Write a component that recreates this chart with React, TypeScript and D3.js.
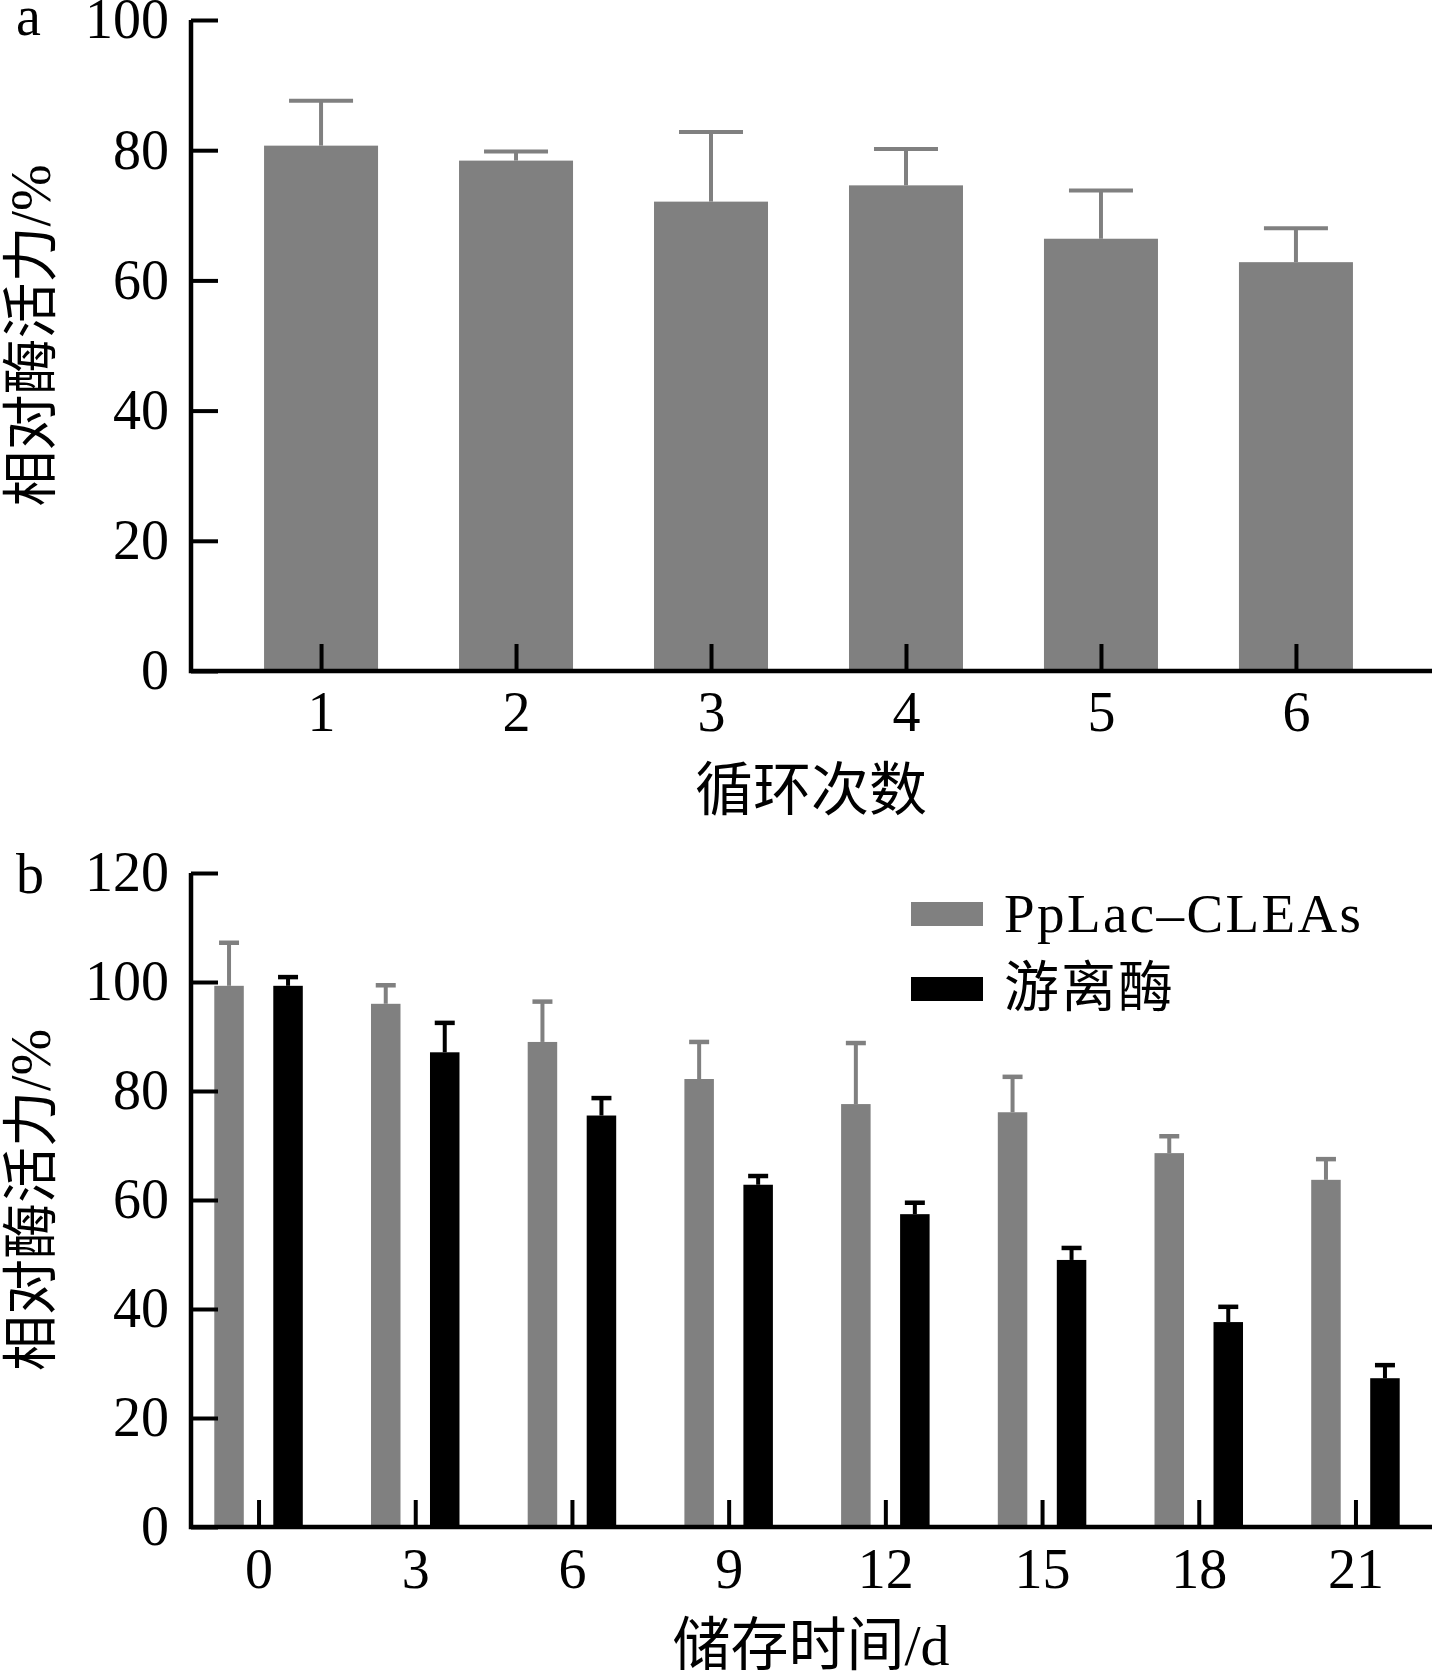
import * as d3 from "d3";
import React from "react";

// panel a: reuse cycles
const cycles = ["1", "2", "3", "4", "5", "6"];
const cycleMean = [80.7, 78.4, 72.1, 74.6, 66.4, 62.8];
const cycleSd = [6.9, 1.4, 10.7, 5.6, 7.4, 5.2];
const ticksA = [0, 20, 40, 60, 80, 100];

// panel b: storage stability
const days = ["0", "3", "6", "9", "12", "15", "18", "21"];
const cleaMean = [99.3, 96.0, 89.0, 82.2, 77.6, 76.1, 68.6, 63.7];
const cleaSd = [7.9, 3.4, 7.4, 6.8, 11.2, 6.5, 3.1, 3.8];
const freeMean = [99.3, 87.1, 75.5, 62.8, 57.4, 49.0, 37.6, 27.3];
const freeSd = [1.6, 5.4, 3.2, 1.6, 2.1, 2.2, 2.8, 2.4];
const ticksB = [0, 20, 40, 60, 80, 100, 120];
const seriesNames = ["PpLac\u2013CLEAs", "游离酶"];

const GRAY = "#808080";
const FONT = "'Liberation Serif', 'Times New Roman', 'Noto Sans CJK SC', serif";
const W = 1432;
const H = 1674;

const App: React.FC = (): React.ReactElement => {
  const ref = React.useRef<SVGSVGElement>(null);

  React.useEffect(() => {
    const svg = d3.select(ref.current);
    svg.selectAll("*").remove();
    const axisX0 = 191;
    const axisX1 = 1432;

    const styleAxis = (g: any) => {
      g.select(".domain").remove();
      g.selectAll("line").attr("stroke", "#000").attr("stroke-width", 4);
      g.selectAll("text")
        .attr("font-family", FONT)
        .attr("font-size", 56)
        .attr("fill", "#000");
    };

    // ---------- panel a ----------
    const yA = d3.scaleLinear().domain([0, 100]).range([671, 20]);
    const xA = d3.scalePoint().domain(cycles).range([axisX0, 1426]).padding(0.667);
    const gA = svg.append("g");
    const bwA = 114;

    gA.selectAll("rect.bar")
      .data(cycles)
      .enter()
      .append("rect")
      .attr("x", (d) => (xA(d) as number) - bwA / 2)
      .attr("y", (_d, i) => yA(cycleMean[i]))
      .attr("width", bwA)
      .attr("height", (_d, i) => yA(0) - yA(cycleMean[i]))
      .attr("fill", GRAY);

    cycles.forEach((d, i) => {
      const cx = xA(d) as number;
      const top = yA(cycleMean[i] + cycleSd[i]);
      gA.append("line")
        .attr("x1", cx).attr("x2", cx)
        .attr("y1", top).attr("y2", yA(cycleMean[i]))
        .attr("stroke", GRAY).attr("stroke-width", 4);
      gA.append("line")
        .attr("x1", cx - 32).attr("x2", cx + 32)
        .attr("y1", top).attr("y2", top)
        .attr("stroke", GRAY).attr("stroke-width", 4);
    });

    gA.append("g")
      .attr("transform", `translate(${axisX0},0)`)
      .call(d3.axisLeft(yA).tickValues(ticksA).tickSizeInner(-27).tickSizeOuter(0).tickPadding(22))
      .call(styleAxis);
    gA.append("g")
      .attr("transform", `translate(0,${yA(0)})`)
      .call(d3.axisBottom(xA).tickSizeInner(-27).tickSizeOuter(0).tickPadding(20))
      .call(styleAxis);
    gA.append("path")
      .attr("d", `M${axisX0},${yA(100)}V${yA(0)}H${axisX1}`)
      .attr("fill", "none").attr("stroke", "#000").attr("stroke-width", 4.5);

    gA.append("text").attr("x", 16).attr("y", 35).text("a")
      .attr("font-family", FONT).attr("font-size", 56);
    gA.append("text")
      .attr("x", 811).attr("y", 810).attr("text-anchor", "middle")
      .attr("font-family", FONT).attr("font-size", 58).text("循环次数");
    gA.append("text")
      .attr("transform", `translate(31,${(yA(0) + yA(100)) / 2 - 10}) rotate(-90)`)
      .attr("text-anchor", "middle").attr("dominant-baseline", "central")
      .attr("font-family", FONT).attr("font-size", 56).text("相对酶活力/%");

    // ---------- panel b ----------
    const yB = d3.scaleLinear().domain([0, 120]).range([1527, 873]);
    const xB = d3.scalePoint().domain(days).range([axisX0, 1423]).padding(0.431);
    const gB = svg.append("g");
    const bwB = 29.5;
    const series = [
      { mean: cleaMean, sd: cleaSd, color: GRAY, off: -29.5 },
      { mean: freeMean, sd: freeSd, color: "#000", off: 29.5 },
    ];

    series.forEach((s) => {
      gB.selectAll(null)
        .data(days)
        .enter()
        .append("rect")
        .attr("x", (d) => (xB(d) as number) + s.off - bwB / 2)
        .attr("y", (_d, i) => yB(s.mean[i]))
        .attr("width", bwB)
        .attr("height", (_d, i) => yB(0) - yB(s.mean[i]))
        .attr("fill", s.color);
      days.forEach((d, i) => {
        const cx = (xB(d) as number) + s.off;
        const top = yB(s.mean[i] + s.sd[i]);
        gB.append("line")
          .attr("x1", cx).attr("x2", cx)
          .attr("y1", top).attr("y2", yB(s.mean[i]))
          .attr("stroke", s.color).attr("stroke-width", 4);
        gB.append("line")
          .attr("x1", cx - 10).attr("x2", cx + 10)
          .attr("y1", top).attr("y2", top)
          .attr("stroke", s.color).attr("stroke-width", 4.5);
      });
    });

    gB.append("g")
      .attr("transform", `translate(${axisX0},0)`)
      .call(d3.axisLeft(yB).tickValues(ticksB).tickSizeInner(-27).tickSizeOuter(0).tickPadding(22))
      .call(styleAxis);
    gB.append("g")
      .attr("transform", `translate(0,${yB(0)})`)
      .call(d3.axisBottom(xB).tickSizeInner(-27).tickSizeOuter(0).tickPadding(21))
      .call(styleAxis);
    gB.append("path")
      .attr("d", `M${axisX0},${yB(120)}V${yB(0)}H${axisX1}`)
      .attr("fill", "none").attr("stroke", "#000").attr("stroke-width", 4.5);

    gB.append("text").attr("x", 16).attr("y", 893).text("b")
      .attr("font-family", FONT).attr("font-size", 56);
    gB.append("text")
      .attr("x", 811).attr("y", 1665).attr("text-anchor", "middle")
      .attr("font-family", FONT).attr("font-size", 58).text("储存时间/d");
    gB.append("text")
      .attr("transform", `translate(31,${(yB(0) + yB(120)) / 2}) rotate(-90)`)
      .attr("text-anchor", "middle").attr("dominant-baseline", "central")
      .attr("font-family", FONT).attr("font-size", 56).text("相对酶活力/%");

    // legend
    const legend = gB.append("g");
    seriesNames.forEach((name, i) => {
      legend.append("rect")
        .attr("x", 911).attr("y", 902 + i * 75)
        .attr("width", 72).attr("height", 24)
        .attr("fill", series[i].color);
      legend.append("text")
        .attr("x", 1004).attr("y", 932 + i * 74)
        .attr("font-family", FONT).attr("font-size", 55)
        .attr("letter-spacing", i === 0 ? 2.4 : 2)
        .text(name);
    });
  }, []);

  return (
    <div style={{ position: "absolute", left: 0, top: 0 }}>
      <svg ref={ref} width={W} height={H} style={{ display: "block", background: "#fff" }} />
    </div>
  );
};

export default App;
